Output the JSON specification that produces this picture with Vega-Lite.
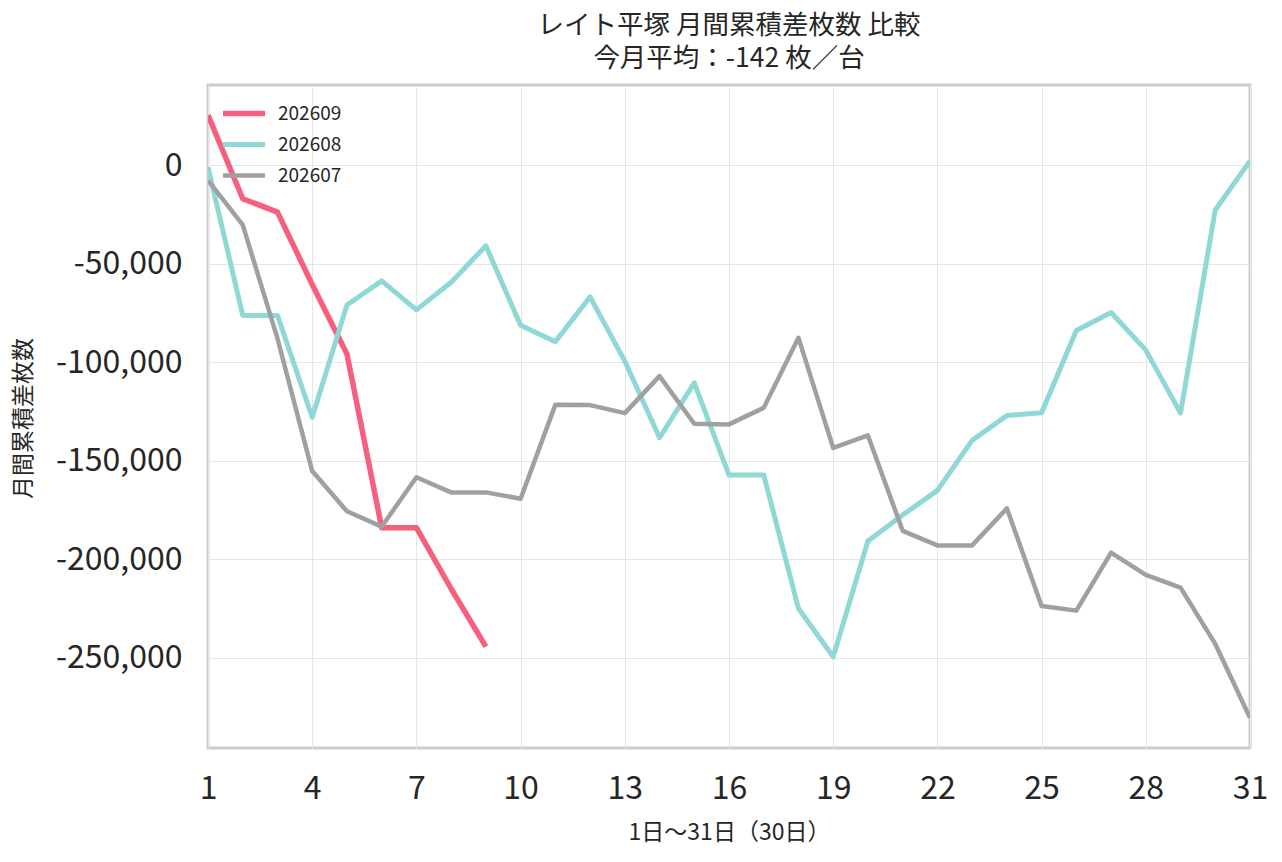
{
  "$schema": "https://vega.github.io/schema/vega-lite/v6.json",
  "autosize": {"type": "none"},
  "width": 1042,
  "height": 663,
  "padding": {"left": 208, "top": 85, "right": 32, "bottom": 114},
  "background": "white",
  "title": {
    "text": "レイト平塚 月間累積差枚数 比較",
    "subtitle": "今月平均：-142 枚／台",
    "fontSize": 26.5,
    "subtitleFontSize": 26.5,
    "subtitlePadding": 6,
    "fontWeight": "normal",
    "color": "#262626",
    "subtitleColor": "#262626",
    "anchor": "middle",
    "offset": 13
  },
  "data": {
    "values": [
      {"month": "202609", "day": 1, "value": 25300},
      {"month": "202609", "day": 2, "value": -17100},
      {"month": "202609", "day": 3, "value": -23900},
      {"month": "202609", "day": 4, "value": -60600},
      {"month": "202609", "day": 5, "value": -95900},
      {"month": "202609", "day": 6, "value": -184000},
      {"month": "202609", "day": 7, "value": -184000},
      {"month": "202609", "day": 8, "value": -215000},
      {"month": "202609", "day": 9, "value": -244400},

      {"month": "202608", "day": 1, "value": -1000},
      {"month": "202608", "day": 2, "value": -76300},
      {"month": "202608", "day": 3, "value": -76300},
      {"month": "202608", "day": 4, "value": -128000},
      {"month": "202608", "day": 5, "value": -71000},
      {"month": "202608", "day": 6, "value": -58800},
      {"month": "202608", "day": 7, "value": -73500},
      {"month": "202608", "day": 8, "value": -59500},
      {"month": "202608", "day": 9, "value": -41000},
      {"month": "202608", "day": 10, "value": -81300},
      {"month": "202608", "day": 11, "value": -89700},
      {"month": "202608", "day": 12, "value": -66900},
      {"month": "202608", "day": 13, "value": -99500},
      {"month": "202608", "day": 14, "value": -138400},
      {"month": "202608", "day": 15, "value": -110500},
      {"month": "202608", "day": 16, "value": -157300},
      {"month": "202608", "day": 17, "value": -157300},
      {"month": "202608", "day": 18, "value": -225000},
      {"month": "202608", "day": 19, "value": -249500},
      {"month": "202608", "day": 20, "value": -190800},
      {"month": "202608", "day": 21, "value": -177600},
      {"month": "202608", "day": 22, "value": -165100},
      {"month": "202608", "day": 23, "value": -139700},
      {"month": "202608", "day": 24, "value": -127100},
      {"month": "202608", "day": 25, "value": -125700},
      {"month": "202608", "day": 26, "value": -84000},
      {"month": "202608", "day": 27, "value": -74800},
      {"month": "202608", "day": 28, "value": -93900},
      {"month": "202608", "day": 29, "value": -125900},
      {"month": "202608", "day": 30, "value": -22800},
      {"month": "202608", "day": 31, "value": 2100},

      {"month": "202607", "day": 1, "value": -7800},
      {"month": "202607", "day": 2, "value": -30400},
      {"month": "202607", "day": 3, "value": -88000},
      {"month": "202607", "day": 4, "value": -155300},
      {"month": "202607", "day": 5, "value": -175700},
      {"month": "202607", "day": 6, "value": -183500},
      {"month": "202607", "day": 7, "value": -158400},
      {"month": "202607", "day": 8, "value": -166100},
      {"month": "202607", "day": 9, "value": -166100},
      {"month": "202607", "day": 10, "value": -169300},
      {"month": "202607", "day": 11, "value": -121700},
      {"month": "202607", "day": 12, "value": -121800},
      {"month": "202607", "day": 13, "value": -125900},
      {"month": "202607", "day": 14, "value": -107100},
      {"month": "202607", "day": 15, "value": -131300},
      {"month": "202607", "day": 16, "value": -131600},
      {"month": "202607", "day": 17, "value": -123200},
      {"month": "202607", "day": 18, "value": -87700},
      {"month": "202607", "day": 19, "value": -143500},
      {"month": "202607", "day": 20, "value": -137200},
      {"month": "202607", "day": 21, "value": -185600},
      {"month": "202607", "day": 22, "value": -193000},
      {"month": "202607", "day": 23, "value": -193000},
      {"month": "202607", "day": 24, "value": -174200},
      {"month": "202607", "day": 25, "value": -223700},
      {"month": "202607", "day": 26, "value": -226100},
      {"month": "202607", "day": 27, "value": -196700},
      {"month": "202607", "day": 28, "value": -208000},
      {"month": "202607", "day": 29, "value": -214400},
      {"month": "202607", "day": 30, "value": -243000},
      {"month": "202607", "day": 31, "value": -280500}
    ]
  },
  "mark": {"type": "line", "strokeJoin": "round", "clip": true},
  "encoding": {
    "x": {
      "field": "day",
      "type": "quantitative",
      "scale": {"domain": [1, 31], "nice": false, "zero": false},
      "axis": {
        "values": [1, 4, 7, 10, 13, 16, 19, 22, 25, 28, 31],
        "title": "1日〜31日（30日）",
        "titleFontSize": 23,
        "titleFontWeight": "normal",
        "titleColor": "#262626",
        "titleX": 521,
        "titleY": 84,
        "titleBaseline": "middle",
        "titleAlign": "center",
        "labelFontSize": 32,
        "labelPadding": 25,
        "labelColor": "#262626",
        "labelFlush": false,
        "tickSize": 0,
        "domain": false,
        "grid": true,
        "gridColor": "#e6e6e6",
        "gridWidth": 1
      }
    },
    "y": {
      "field": "value",
      "type": "quantitative",
      "scale": {"domain": [-295800, 40600], "nice": false, "zero": false},
      "axis": {
        "values": [-250000, -200000, -150000, -100000, -50000, 0],
        "labelExpr": "replace(format(datum.value, ','), '−', '-')",
        "title": "月間累積差枚数",
        "titleFontSize": 23,
        "titleFontWeight": "normal",
        "titleColor": "#262626",
        "titleAngle": 270,
        "titleX": -185,
        "titleY": 333,
        "titleAlign": "center",
        "titleBaseline": "middle",
        "labelFontSize": 32,
        "labelPadding": 26,
        "labelColor": "#262626",
        "tickSize": 0,
        "domain": false,
        "grid": true,
        "gridColor": "#e6e6e6",
        "gridWidth": 1
      }
    },
    "color": {
      "field": "month",
      "type": "nominal",
      "sort": ["202609", "202608", "202607"],
      "scale": {
        "domain": ["202609", "202608", "202607"],
        "range": ["#f6607e", "#90d8d5", "#a0a0a0"]
      },
      "legend": {
        "title": null,
        "orient": "none",
        "legendX": 12,
        "legendY": 13,
        "symbolType": "stroke",
        "symbolSize": 1764,
        "symbolStrokeWidth": 4.5,
        "labelFontSize": 19,
        "labelOffset": 10,
        "labelColor": "#262626",
        "clipHeight": 31,
        "rowPadding": 0,
        "padding": 0
      }
    },
    "strokeWidth": {
      "field": "month",
      "type": "ordinal",
      "scale": {"domain": ["202609", "202608", "202607"], "range": [5.5, 4.5, 3.5]},
      "legend": null
    }
  },
  "config": {
    "font": "Noto Sans CJK JP",
    "view": {"stroke": "#cccccc", "strokeWidth": 3}
  }
}
